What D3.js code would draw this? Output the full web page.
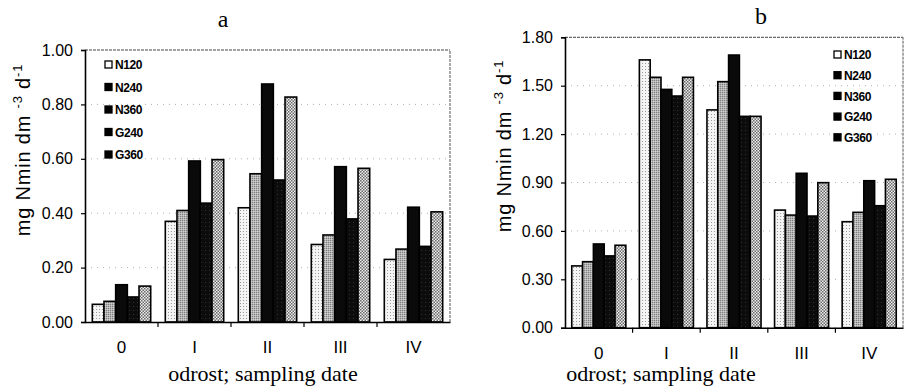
<!DOCTYPE html>
<html><head><meta charset="utf-8">
<script src="https://cdn.jsdelivr.net/npm/d3@7"></script>
<style>html,body{margin:0;padding:0;background:#fff}svg{display:block}</style>
</head><body>
<script>
const categories = ["0", "I", "II", "III", "IV"];
const seriesNames = ["N120", "N240", "N360", "G240", "G360"];
// panel a values (per category, per series)
const aN120 = [0.065, 0.37, 0.42, 0.285, 0.23];
const aN240 = [0.076, 0.41, 0.545, 0.32, 0.268];
const aN360 = [0.137, 0.592, 0.875, 0.571, 0.422];
const aG240 = [0.092, 0.437, 0.522, 0.379, 0.278];
const aG360 = [0.132, 0.597, 0.827, 0.565, 0.405];
// panel b values
const bN120 = [0.383, 1.66, 1.35, 0.729, 0.657];
const bN240 = [0.409, 1.552, 1.525, 0.698, 0.715];
const bN360 = [0.519, 1.477, 1.69, 0.957, 0.911];
const bG240 = [0.445, 1.436, 1.31, 0.692, 0.756];
const bG360 = [0.511, 1.552, 1.31, 0.899, 0.92];
const aTicks = [0, 0.2, 0.4, 0.6, 0.8, 1.0];
const bTicks = [0, 0.3, 0.6, 0.9, 1.2, 1.5, 1.8];

const W = 908, H = 387;
const svg = d3.select("body").append("svg").attr("width", W).attr("height", H);
const defs = svg.append("defs");

function pat(id, size, bg, draw) {
  const p = defs.append("pattern").attr("id", id).attr("patternUnits", "userSpaceOnUse")
    .attr("width", size).attr("height", size);
  p.append("rect").attr("width", size).attr("height", size).attr("fill", bg);
  draw(p);
}
pat("pN120", 3, "#f4f4f4", p => {
  p.append("rect").attr("x", 0).attr("y", 0).attr("width", 1).attr("height", 1).attr("fill", "#9a9a9a");
});
pat("pN240", 2, "#b4b4b4", p => {
  p.append("rect").attr("x", 0).attr("y", 0).attr("width", 1).attr("height", 1).attr("fill", "#808080");
  p.append("rect").attr("x", 1).attr("y", 1).attr("width", 1).attr("height", 1).attr("fill", "#d0d0d0");
});
pat("pG240", 4, "#0c0c0c", p => {
  p.append("rect").attr("x", 1).attr("y", 2).attr("width", 1).attr("height", 1).attr("fill", "#303030");
});
pat("pG360", 3, "#ededed", p => {
  p.append("rect").attr("x", 0).attr("y", 0).attr("width", 1.5).attr("height", 1.5).attr("fill", "#6a6a6a");
  p.append("rect").attr("x", 1.5).attr("y", 1.5).attr("width", 1.5).attr("height", 1.5).attr("fill", "#6a6a6a");
});
const fills = ["url(#pN120)", "url(#pN240)", "#0a0a0a", "url(#pG240)", "url(#pG360)"];

function panel(opts) {
  const { series, ticks, xr, yr, title, titleX, titleY, tickFmt, legendX, legendY, legendStep, yTitleX, yTitleY, xTitleX } = opts;
  const g = svg.append("g");
  const x = d3.scaleBand().domain(categories).range(xr).paddingInner(0.2).paddingOuter(0.1);
  const xs = d3.scaleBand().domain(seriesNames).range([0, x.bandwidth()]);
  const y = d3.scaleLinear().domain([0, ticks[ticks.length - 1]]).range(yr);

  g.append("g").selectAll("line").data(ticks.slice(1, -1)).join("line")
    .attr("x1", xr[0]).attr("x2", xr[1]).attr("y1", d => y(d)).attr("y2", d => y(d))
    .attr("stroke", "#9a9a9a").attr("stroke-width", 0.8).attr("stroke-dasharray", "1,5");
  g.append("line").attr("x1", xr[0]).attr("x2", xr[1]).attr("y1", y(ticks[ticks.length-1])).attr("y2", y(ticks[ticks.length-1]))
    .attr("stroke", "#444").attr("stroke-width", 1).attr("stroke-dasharray", "3,1");
  g.append("line").attr("x1", xr[1]).attr("x2", xr[1]).attr("y1", yr[0]).attr("y2", yr[1])
    .attr("stroke", "#555").attr("stroke-width", 1).attr("stroke-dasharray", "3,1");

  const rows = [];
  categories.forEach((c, i) => series.forEach((s, j) => rows.push({ c, s: seriesNames[j], v: s[i], j })));
  g.append("g").selectAll("rect").data(rows).join("rect")
    .attr("x", d => x(d.c) + xs(d.s))
    .attr("y", d => y(d.v))
    .attr("width", xs.bandwidth())
    .attr("height", d => y(0) - y(d.v))
    .attr("fill", d => fills[d.j])
    .attr("stroke", "#000").attr("stroke-width", 1.6);

  const ya = g.append("g").attr("transform", `translate(${xr[0]},0)`)
    .call(d3.axisLeft(y).tickValues(ticks).tickFormat(tickFmt).tickSize(4).tickPadding(8));
  ya.select(".domain").attr("stroke", "#000").attr("stroke-width", 1.6);
  ya.selectAll(".tick line").attr("stroke", "#000").attr("stroke-width", 1.2);
  ya.selectAll("text").attr("font-family", "Liberation Sans, Arial, sans-serif").attr("font-size", 16).attr("fill", "#000");

  const xa = g.append("g").attr("transform", `translate(0,${yr[0]})`)
    .call(d3.axisBottom(x).tickSize(0).tickPadding(19));
  xa.select(".domain").attr("stroke", "#000").attr("stroke-width", 1.6);
  xa.selectAll("text").attr("font-family", "Liberation Sans, Arial, sans-serif").attr("font-size", 17).attr("fill", "#000").attr("dy", "0.71em");
  const bounds = categories.slice(1).map(c => x(c) - x.step() * x.paddingInner() / 2);
  g.append("g").selectAll("line").data(bounds).join("line")
    .attr("x1", d => d).attr("x2", d => d).attr("y1", yr[0]).attr("y2", yr[0] + 5)
    .attr("stroke", "#000").attr("stroke-width", 1.2);

  g.append("text").attr("x", titleX).attr("y", titleY).attr("text-anchor", "middle")
    .attr("font-family", "Liberation Serif, Times New Roman, serif").attr("font-size", 24).text(title);
  g.append("text").attr("x", xTitleX).attr("y", 381).attr("text-anchor", "middle")
    .attr("font-family", "Liberation Serif, Times New Roman, serif").attr("font-size", 22).text("odrost; sampling date");
  const yt = g.append("text").attr("transform", `translate(${yTitleX},${yTitleY}) rotate(-90)`)
    .attr("text-anchor", "middle").attr("font-family", "Liberation Sans, Arial, sans-serif")
    .attr("font-size", 20).attr("letter-spacing", 0.8);
  yt.append("tspan").text("mg Nmin dm ");
  yt.append("tspan").attr("font-size", 13).attr("dy", -8).text("-3");
  yt.append("tspan").attr("dy", 8).text(" d");
  yt.append("tspan").attr("font-size", 13).attr("dy", -8).text("-1");

  const lg = g.append("g");
  seriesNames.forEach((s, j) => {
    const cy = legendY + j * legendStep;
    lg.append("rect").attr("x", legendX).attr("y", cy - 4).attr("width", 7).attr("height", 7)
      .attr("fill", j === 0 ? "#fff" : "#000").attr("stroke", "#000").attr("stroke-width", 1.3);
    lg.append("text").attr("x", legendX + 10).attr("y", cy).attr("dy", "0.35em")
      .attr("font-family", "Liberation Sans, Arial, sans-serif").attr("font-weight", "bold")
      .attr("font-size", 12).attr("letter-spacing", -0.4).text(s);
  });
}

panel({
  series: [aN120, aN240, aN360, aG240, aG360], ticks: aTicks,
  xr: [85, 450], yr: [322, 50], title: "a", titleX: 223, titleY: 27,
  tickFmt: d3.format(".2f"), legendX: 105, legendY: 65, legendStep: 22.5,
  yTitleX: 30, yTitleY: 150, xTitleX: 263
});
panel({
  series: [bN120, bN240, bN360, bG240, bG360], ticks: bTicks,
  xr: [565, 903], yr: [327.7, 37.3], title: "b", titleX: 761, titleY: 24,
  tickFmt: d3.format(".2f"), legendX: 834, legendY: 55, legendStep: 20.7,
  yTitleX: 511, yTitleY: 146, xTitleX: 661
});
</script>
</body></html>
